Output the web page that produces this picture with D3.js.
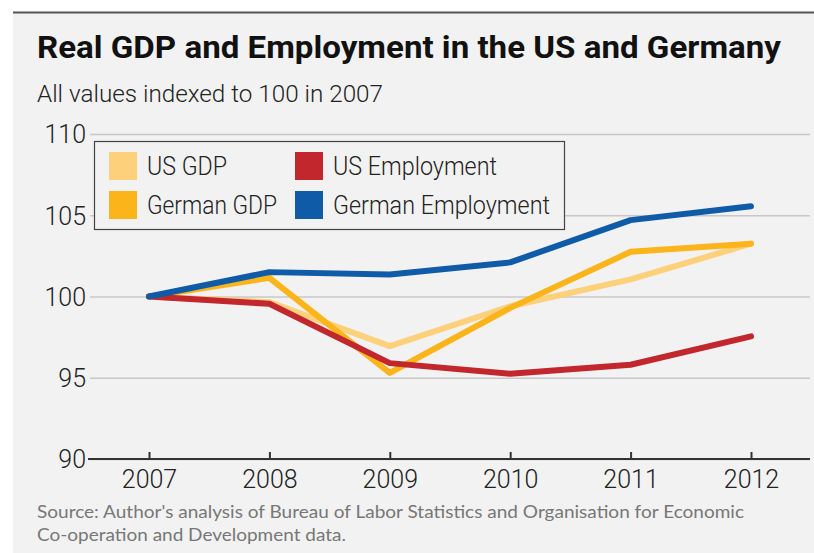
<!DOCTYPE html>
<html>
<head>
<meta charset="utf-8">
<script src="https://cdn.jsdelivr.net/npm/d3@7"></script>
<style>
  html, body { margin: 0; padding: 0; background: #ffffff; }
  svg { display: block; }
</style>
</head>
<body>
<svg id="chart" width="814" height="553"></svg>
<script>
// Index values (2007 = 100)
const years = [2007, 2008, 2009, 2010, 2011, 2012];
const usGDP = [100, 99.65, 96.95, 99.4, 101.05, 103.25];
const germanGDP = [100, 101.15, 95.3, 99.3, 102.75, 103.25];
const usEmployment = [100, 99.55, 95.9, 95.25, 95.8, 97.55];
const germanEmployment = [100, 101.5, 101.35, 102.1, 104.7, 105.55];
const yTicks = [90, 95, 100, 105, 110];

const seriesNames = ["US GDP", "German GDP", "US Employment", "German Employment"];
const seriesColors = ["#fdd07c", "#fbb41a", "#c1272d", "#0f5ba7"];
const seriesValues = [usGDP, germanGDP, usEmployment, germanEmployment];

const svg = d3.select("#chart");
const W = 814, H = 553;

// panel background and top rule
svg.append("rect").attr("x", 13).attr("y", 12).attr("width", W - 13).attr("height", H - 12).attr("fill", "#f2f2f2");
svg.append("line").attr("x1", 13).attr("x2", W).attr("y1", 12.5).attr("y2", 12.5)
  .attr("stroke", "#555").attr("stroke-width", 2);

// headings
svg.append("text").attr("x", 37).attr("y", 58)
  .attr("font-family", "Roboto, sans-serif").attr("font-weight", 700).attr("font-size", 31)
  .attr("fill", "#111").attr("textLength", 744).attr("lengthAdjust", "spacingAndGlyphs")
  .text("Real GDP and Employment in the US and Germany");
svg.append("text").attr("x", 37).attr("y", 102)
  .attr("font-family", "Roboto, sans-serif").attr("font-weight", 300).attr("font-size", 24)
  .attr("fill", "#222").attr("textLength", 346).attr("lengthAdjust", "spacingAndGlyphs")
  .text("All values indexed to 100 in 2007");

const x = d3.scalePoint().domain(years).range([149, 751]);
const y = d3.scaleLinear().domain([90, 110]).range([459, 134]);

// gridlines + y labels
const yAxis = d3.axisLeft(y).tickValues(yTicks).tickSize(-(810 - 90)).tickPadding(4).tickFormat(d3.format("d"));
const gy = svg.append("g").attr("transform", "translate(90,0)").call(yAxis);
gy.select(".domain").remove();
gy.selectAll(".tick line").attr("stroke", "#c8c8c8").attr("stroke-width", 1.5);
gy.selectAll(".tick text").attr("font-family", "Roboto, sans-serif").attr("font-weight", 300)
  .attr("font-size", 25).attr("fill", "#222").attr("dy", "0.35em");

// x axis
const xAxis = d3.axisBottom(x).tickSize(-7).tickPadding(11).tickFormat(d3.format("d"));
const gx = svg.append("g").attr("transform", `translate(0,${y(90)})`).call(xAxis);
gx.select(".domain").remove();
gx.append("line").attr("x1", 88).attr("x2", 810).attr("stroke", "#333").attr("stroke-width", 2);
gx.selectAll(".tick line").attr("stroke", "#333").attr("stroke-width", 2);
gx.selectAll(".tick text").attr("font-family", "Roboto, sans-serif").attr("font-weight", 300)
  .attr("font-size", 25).attr("fill", "#222");

// lines
const line = d3.line().x((d, i) => x(years[i])).y(d => y(d));
seriesValues.forEach((vals, i) => {
  svg.append("path").datum(vals).attr("d", line)
    .attr("fill", "none").attr("stroke", seriesColors[i]).attr("stroke-width", 6)
    .attr("stroke-linejoin", "round").attr("stroke-linecap", "round");
});

// legend
const lg = svg.append("g");
lg.append("rect").attr("x", 94.5).attr("y", 141.5).attr("width", 470).attr("height", 88)
  .attr("fill", "#f2f2f2").attr("stroke", "#444").attr("stroke-width", 1.2);
const legendPos = [[109, 152], [109, 191], [295, 152], [295, 191]];
const legendWidths = [80, 130, 164, 217];
seriesNames.forEach((name, i) => {
  const [lx, ly] = legendPos[i];
  lg.append("rect").attr("x", lx).attr("y", ly).attr("width", 28).attr("height", 28).attr("fill", seriesColors[i]);
  lg.append("text").attr("x", lx + 38).attr("y", ly + 23)
    .attr("font-family", "Roboto, sans-serif").attr("font-weight", 300).attr("font-size", 25)
    .attr("fill", "#222").attr("textLength", legendWidths[i]).attr("lengthAdjust", "spacingAndGlyphs")
    .text(name);
});

// source note
const src = svg.append("g").attr("font-family", "Lato, sans-serif").attr("font-size", 17.5).attr("fill", "#777");
src.append("text").attr("x", 37).attr("y", 518).attr("textLength", 707).attr("lengthAdjust", "spacingAndGlyphs")
  .text("Source: Author's analysis of Bureau of Labor Statistics and Organisation for Economic");
src.append("text").attr("x", 37).attr("y", 541).attr("textLength", 309).attr("lengthAdjust", "spacingAndGlyphs")
  .text("Co-operation and Development data.");
</script>
</body>
</html>
